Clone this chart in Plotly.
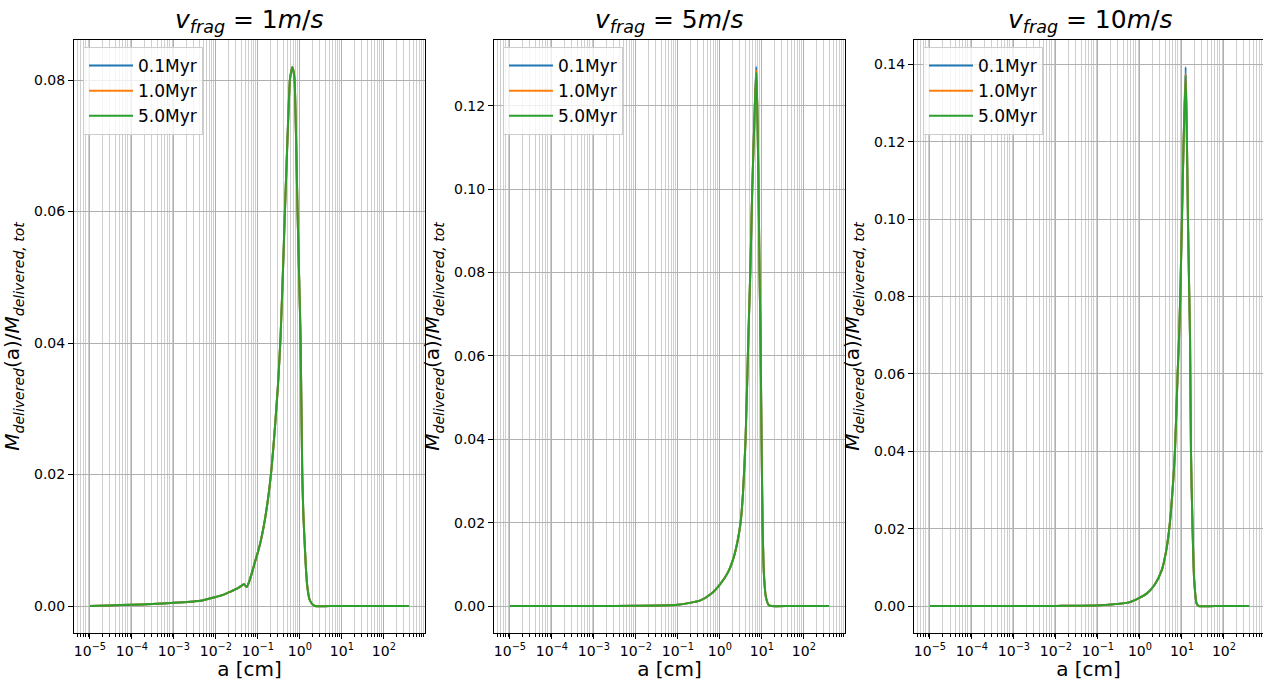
import plotly.graph_objects as go

# ---------------- data ----------------
series_labels = ["0.1Myr", "1.0Myr", "5.0Myr"]
series_colors = ["#1f77b4", "#ff7f0e", "#2ca02c"]
panel_titles = ["<i>v</i><sub><i>frag</i></sub> = 1<i>m</i>/<i>s</i>",
                "<i>v</i><sub><i>frag</i></sub> = 5<i>m</i>/<i>s</i>",
                "<i>v</i><sub><i>frag</i></sub> = 10<i>m</i>/<i>s</i>"]

# v_frag = 1 m/s
a_v1 = [1e-5, 3e-5, 1e-4, 3e-4, 1e-3, 3e-3, 4.3e-3, 8.9e-3, 0.015, 0.0224, 0.035, 0.047,
        0.054, 0.065, 0.080, 0.10, 0.116, 0.13, 0.15, 0.18, 0.212, 0.25, 0.30, 0.347, 0.40,
        0.44, 0.50, 0.578, 0.62, 0.66, 0.70, 0.748, 0.80, 0.88, 0.96, 1.04, 1.14, 1.21, 1.29,
        1.4, 1.5, 1.7, 1.97, 2.3, 5.0, 20.0, 100.0, 398.0]
m_v1_01 = [0.0, 0.0001, 0.0002, 0.0003, 0.0005, 0.0007, 0.0008, 0.0013, 0.0017, 0.0022, 0.0028, 0.0033,
           0.0029, 0.0041, 0.0061, 0.0082, 0.0098, 0.0113, 0.0135, 0.0170, 0.0210, 0.0265, 0.0335, 0.0410, 0.0520,
           0.0600, 0.0700, 0.0800, 0.0813, 0.0820, 0.0815, 0.0800, 0.0730, 0.0600, 0.0500, 0.0405, 0.0200, 0.0140, 0.0100,
           0.0055, 0.0030, 0.0010, 0.0003, 0.0, 0.0, 0.0, 0.0, 0.0]
m_v1_10 = [0.0, 0.0001, 0.0002, 0.0003, 0.0005, 0.0007, 0.0008, 0.0013, 0.0017, 0.0022, 0.0028, 0.0033,
           0.0029, 0.0041, 0.0061, 0.0082, 0.0098, 0.0113, 0.0135, 0.0170, 0.0210, 0.0265, 0.0335, 0.0410, 0.0520,
           0.0600, 0.0700, 0.0800, 0.0813, 0.0820, 0.0815, 0.0800, 0.0730, 0.0600, 0.0500, 0.0405, 0.0200, 0.0140, 0.0100,
           0.0055, 0.0030, 0.0010, 0.0003, 0.0, 0.0, 0.0, 0.0, 0.0]
m_v1_50 = [0.0, 0.0001, 0.0002, 0.0003, 0.0005, 0.0007, 0.0008, 0.0013, 0.0017, 0.0022, 0.0028, 0.0033,
           0.0029, 0.0041, 0.0061, 0.0082, 0.0098, 0.0113, 0.0135, 0.0170, 0.0210, 0.0265, 0.0335, 0.0410, 0.0520,
           0.0600, 0.0700, 0.0800, 0.0812, 0.0819, 0.0814, 0.0800, 0.0730, 0.0600, 0.0500, 0.0405, 0.0200, 0.0140, 0.0100,
           0.0055, 0.0030, 0.0010, 0.0003, 0.0, 0.0, 0.0, 0.0, 0.0]

# v_frag = 5 m/s
a_v5 = [1e-5, 1e-4, 1e-3, 0.01, 0.0977, 0.347, 0.63, 1.04, 1.58, 2.15, 2.63, 3.11, 3.55, 4.09, 4.74,
        5.3, 5.9, 6.8, 7.36, 7.76, 8.34, 8.81, 9.3, 9.84, 10.4, 11.17, 12.45, 14.7, 17.0, 50.0, 150.0, 398.0]
m_v5_01 = [0.0, 0.0, 0.0, 0.00005, 0.0003, 0.00137, 0.0030, 0.0054, 0.0082, 0.0118, 0.0155, 0.0200, 0.0270, 0.0400, 0.0637,
           0.080, 0.100, 0.120, 0.1293, 0.120, 0.100, 0.080, 0.0637, 0.040, 0.020, 0.0078, 0.0022, 0.0002, 0.0, 0.0, 0.0, 0.0]
m_v5_10 = [0.0, 0.0, 0.0, 0.00005, 0.0003, 0.00137, 0.0030, 0.0054, 0.0082, 0.0118, 0.0155, 0.0200, 0.0270, 0.0400, 0.0637,
           0.080, 0.100, 0.120, 0.1286, 0.120, 0.100, 0.080, 0.0637, 0.040, 0.020, 0.0078, 0.0022, 0.0002, 0.0, 0.0, 0.0, 0.0]
m_v5_50 = [0.0, 0.0, 0.0, 0.00005, 0.0003, 0.00137, 0.0030, 0.0054, 0.0082, 0.0118, 0.0155, 0.0200, 0.0270, 0.0400, 0.0637,
           0.080, 0.100, 0.120, 0.1280, 0.120, 0.100, 0.080, 0.0637, 0.040, 0.020, 0.0078, 0.0022, 0.0002, 0.0, 0.0, 0.0, 0.0]

# v_frag = 10 m/s
a_v10 = [1e-5, 1e-4, 1e-3, 0.01, 0.112, 0.578, 1.445, 2.24, 3.29, 4.17, 4.99, 5.89, 6.81, 7.89, 8.49, 9.12, 10.0,
         10.96, 12.25, 13.15, 13.9, 14.96, 15.6, 16.4, 17.9, 19.6, 22.4, 25.0, 60.0, 200.0, 398.0]
m_v10_01 = [0.0, 0.0, 0.0, 0.00003, 0.0002, 0.0010, 0.0032, 0.0055, 0.0092, 0.0140, 0.0200, 0.0290, 0.0400, 0.0600, 0.0687, 0.0800, 0.1000,
            0.120, 0.1393, 0.120, 0.100, 0.080, 0.0687, 0.040, 0.020, 0.0066, 0.0006, 0.0, 0.0, 0.0, 0.0]
m_v10_10 = [0.0, 0.0, 0.0, 0.00003, 0.0002, 0.0010, 0.0032, 0.0055, 0.0092, 0.0140, 0.0200, 0.0290, 0.0400, 0.0600, 0.0687, 0.0800, 0.1000,
            0.120, 0.1376, 0.120, 0.100, 0.080, 0.0687, 0.040, 0.020, 0.0066, 0.0006, 0.0, 0.0, 0.0, 0.0]
m_v10_50 = [0.0, 0.0, 0.0, 0.00003, 0.0002, 0.0010, 0.0032, 0.0055, 0.0092, 0.0140, 0.0200, 0.0290, 0.0400, 0.0600, 0.0687, 0.0800, 0.1000,
            0.120, 0.1371, 0.120, 0.100, 0.080, 0.0687, 0.040, 0.020, 0.0066, 0.0006, 0.0, 0.0, 0.0, 0.0]

x_tick_exponents = [-5, -4, -3, -2, -1, 0, 1, 2]
x_tick_labels = ["10<sup>\u22125</sup>", "10<sup>\u22124</sup>", "10<sup>\u22123</sup>", "10<sup>\u22122</sup>",
                 "10<sup>\u22121</sup>", "10<sup>0</sup>", "10<sup>1</sup>", "10<sup>2</sup>"]

panels = [
    (a_v1, [m_v1_01, m_v1_10, m_v1_50]),
    (a_v5, [m_v5_01, m_v5_10, m_v5_50]),
    (a_v10, [m_v10_01, m_v10_10, m_v10_50]),
]

# ---------------- layout geometry ----------------
W, H = 1263, 681
x_domains = [[74 / W, 425 / W], [494 / W, 845 / W], [914 / W, 1.0]]
y_domain = [1 - 633 / H, 1 - 40 / H]
x_ranges = [[-5.38, 2.98], [-5.38, 2.98], [-5.38, 2.93]]
y_ranges = [[-0.0041, 0.0861], [-0.00647, 0.1358], [-0.00697, 0.1463]]
legend_x = [83 / W, 503 / W, 923 / W]

major_vals = [10.0 ** e for e in x_tick_exponents]
minor_vals = [m * 10.0 ** k for k in range(-6, 3) for m in range(2, 10)]

FONT = "DejaVu Sans"
fig = go.Figure()

for p, (a_vals, ys) in enumerate(panels):
    xa = "x" if p == 0 else f"x{p + 1}"
    ya = "y" if p == 0 else f"y{p + 1}"
    lg = "legend" if p == 0 else f"legend{p + 1}"
    for s in range(3):
        fig.add_trace(go.Scatter(
            x=a_vals, y=ys[s], mode="lines", name=series_labels[s],
            line=dict(color=series_colors[s], width=2, shape="spline", smoothing=0.6),
            xaxis=xa, yaxis=ya, legend=lg, showlegend=True))

    xkey = "xaxis" if p == 0 else f"xaxis{p + 1}"
    ykey = "yaxis" if p == 0 else f"yaxis{p + 1}"
    fig.layout[xkey] = dict(
        domain=x_domains[p], type="log", range=x_ranges[p], anchor=ya,
        tickmode="array", tickvals=major_vals, ticktext=x_tick_labels,
        showgrid=True, gridcolor="#b0b0b0", gridwidth=0.8,
        minor=dict(tickvals=minor_vals, showgrid=True, gridcolor="#cfcfcf", gridwidth=0.8,
                   ticks="outside", ticklen=3, tickwidth=0.8, tickcolor="black"),
        ticks="outside", ticklen=5, tickwidth=1.1, tickcolor="black",
        showline=True, linecolor="black", linewidth=1.1, mirror=True, zeroline=False,
        tickfont=dict(family=FONT, size=14, color="black"),
        title=dict(text="a [cm]", font=dict(family=FONT, size=20, color="black"), standoff=5),
    )
    fig.layout[ykey] = dict(
        domain=y_domain, range=y_ranges[p], anchor=xa,
        tick0=0, dtick=0.02, tickformat=".2f",
        showgrid=True, gridcolor="#b0b0b0", gridwidth=0.8,
        ticks="outside", ticklen=5, tickwidth=1.1, tickcolor="black",
        showline=True, linecolor="black", linewidth=1.1, mirror=True, zeroline=False,
        tickfont=dict(family=FONT, size=14, color="black"),
        title=dict(text="<i>M</i><sub><i>delivered</i></sub>(a)/<i>M</i><sub><i>delivered, tot</i></sub>",
                   font=dict(family=FONT, size=20, color="black"), standoff=8),
    )
    fig.layout[lg] = dict(
        x=legend_x[p], y=1 - 47 / H, xanchor="left", yanchor="top",
        bgcolor="rgba(255,255,255,0.8)", bordercolor="#cccccc", borderwidth=1,
        font=dict(family=FONT, size=17, color="black"), tracegroupgap=0, itemwidth=44,
    )
    fig.add_annotation(
        text=panel_titles[p], xref="paper", yref="paper",
        x=(x_domains[p][0] + (425 - 74) / W / 2), y=1 - 40 / H,
        xanchor="center", yanchor="bottom", yshift=1, showarrow=False,
        font=dict(family=FONT, size=25, color="black"))

fig.update_layout(
    width=W, height=H, margin=dict(l=0, r=0, t=0, b=0),
    paper_bgcolor="white", plot_bgcolor="white",
    font=dict(family=FONT, color="black"),
)

fig.write_html("out.html", config={"displayModeBar": False},
               post_script="document.body.style.margin='0px';document.body.style.overflow='hidden';")
